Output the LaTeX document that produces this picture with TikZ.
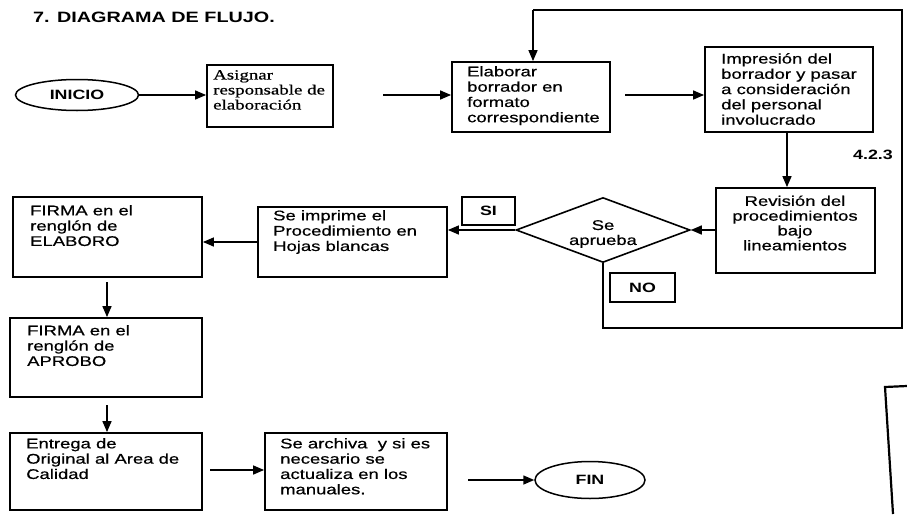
\documentclass[tikz,border=0pt]{standalone}
\usepackage{fontspec}
\setmainfont[FakeStretch=1.32, UprightFeatures={FakeBold=0.6}]{Liberation Sans}
\newfontfamily\serifst[FakeStretch=1.35, FakeBold=0.6]{Liberation Serif}
\usetikzlibrary{shapes.geometric,arrows.meta}
\begin{document}
\begin{tikzpicture}[x=1pt,y=-1pt,
  box/.style={draw, line width=1.8pt, inner sep=0pt},
  oval/.style={draw, ellipse, line width=1.5pt, inner sep=0pt, font=\bfseries\fontsize{13.5}{15}\selectfont},
  txt/.style={align=left, inner sep=0pt, anchor=north west, font=\fontsize{14}{15.3}\selectfont},
  lbl/.style={font=\bfseries\fontsize{13.5}{15}\selectfont, inner sep=0pt},
  arr/.style={line width=1.5pt, -{Triangle[length=11pt,width=9pt]}},
  ln/.style={line width=1.6pt}]
\useasboundingbox (0,0) rectangle (907,514);
\fill[white] (0,0) rectangle (907,514);

\node[anchor=west, inner sep=0pt, font=\bfseries\fontsize{15}{17}\selectfont] (title) at (33,17) {7. DIAGRAMA DE FLUJO.};

% shapes
\node[oval, minimum width=123pt, minimum height=31pt] (inicio) at (77,95) {INICIO};
\node[box, minimum width=126pt, minimum height=62pt] (asig) at (270,96) {};
\node[box, minimum width=158pt, minimum height=70pt] (elab) at (531,97) {};
\node[box, minimum width=168pt, minimum height=85pt] (impr) at (789,89.5) {};
\node[box, minimum width=159pt, minimum height=85pt] (rev) at (795.5,230.5) {};
\node[draw, diamond, line width=1.6pt, inner sep=0pt, minimum width=174pt, minimum height=65pt] (dia) at (603,230) {};
\node[box, minimum width=53pt, minimum height=28pt, lbl] (si) at (488.5,211) {SI};
\node[box, minimum width=65pt, minimum height=29pt, lbl] (no) at (642.5,287.5) {NO};
\node[box, minimum width=189pt, minimum height=70pt] (simp) at (352.5,242) {};
\node[box, minimum width=189pt, minimum height=80pt] (firmaE) at (107.5,237) {};
\node[box, minimum width=192pt, minimum height=79pt] (firmaA) at (106,357.5) {};
\node[box, minimum width=192pt, minimum height=77pt] (entrega) at (106,471.5) {};
\node[box, minimum width=182pt, minimum height=77pt] (archiva) at (356,471.5) {};
\node[oval, minimum width=110pt, minimum height=37pt] (fin) at (590,480) {FIN};

% texts
\node[txt, font=\serifst\fontsize{14}{15}\selectfont] (tasig) at (213,70) {Asignar\\responsable de\\elaboración};
\node[txt] (telab) at (467,66) {Elaborar\\borrador en\\formato\\correspondiente};
\node[txt] (timpr) at (721,53) {Impresión del\\borrador y pasar\\a consideración\\del personal\\involucrado};
\node[align=center, inner sep=0pt, font=\fontsize{14}{14.8}\selectfont] (trev) at (795,223) {Revisión del\\procedimientos\\bajo\\lineamientos};
\node[align=center, inner sep=0pt, font=\fontsize{14}{15}\selectfont] (tdia) at (603,234) {Se\\aprueba};
\node[txt] (tsimp) at (273,210) {Se imprime el\\Procedimiento en\\Hojas blancas};
\node[txt] (tfirmaE) at (30,205) {FIRMA en el\\renglón de\\ELABORO};
\node[txt] (tfirmaA) at (27,325) {FIRMA en el\\renglón de\\APROBO};
\node[txt] (tentrega) at (26,438) {Entrega de\\Original al Area de\\Calidad};
\node[txt] (tarchiva) at (280,438) {Se archiva\ \ y si es\\necesario se\\actualiza en los\\manuales.};
\node[lbl, anchor=east] (num) at (893,155) {4.2.3};

% connectors
\coordinate (a2s) at (383,95);
\coordinate (e2s) at (625,95);
\coordinate (fe2) at (107,282);
\coordinate (fa2) at (107,405);
\coordinate (en2) at (210,470);
\coordinate (ar2) at (468,480);
\coordinate (l1) at (603,328);
\coordinate (l2) at (902,328);
\coordinate (l3) at (902,10);
\coordinate (l4) at (533,10);

\draw[arr] (inicio.east) -- (asig.west |- inicio.east);
\draw[arr] (a2s) -- (elab.west |- a2s);
\draw[arr] (e2s) -- (impr.west |- e2s);
\draw[arr] (impr.south -| 787,0) -- (rev.north -| 787,0);
\draw[arr] (rev.west |- dia.east) -- (dia.east);
\draw[arr] (dia.west) -- (simp.east |- dia.west);
\draw[arr] (simp.west) -- (firmaE.east |- simp.west);
\draw[arr] (fe2) -- (firmaA.north -| fe2);
\draw[arr] (fa2) -- (entrega.north -| fa2);
\draw[arr] (en2) -- (archiva.west |- en2);
\draw[arr] (ar2) -- (fin.west |- ar2);
\draw[ln] (dia.south) -- (l1) -- (l2) -- (l3) -- (l4);
\draw[arr] (l4) -- (elab.north -| l4);

% stamp fragment at right edge
\draw[line width=2.2pt] (907,386) -- (885,387) -- (893,514);
\end{tikzpicture}
\end{document}
